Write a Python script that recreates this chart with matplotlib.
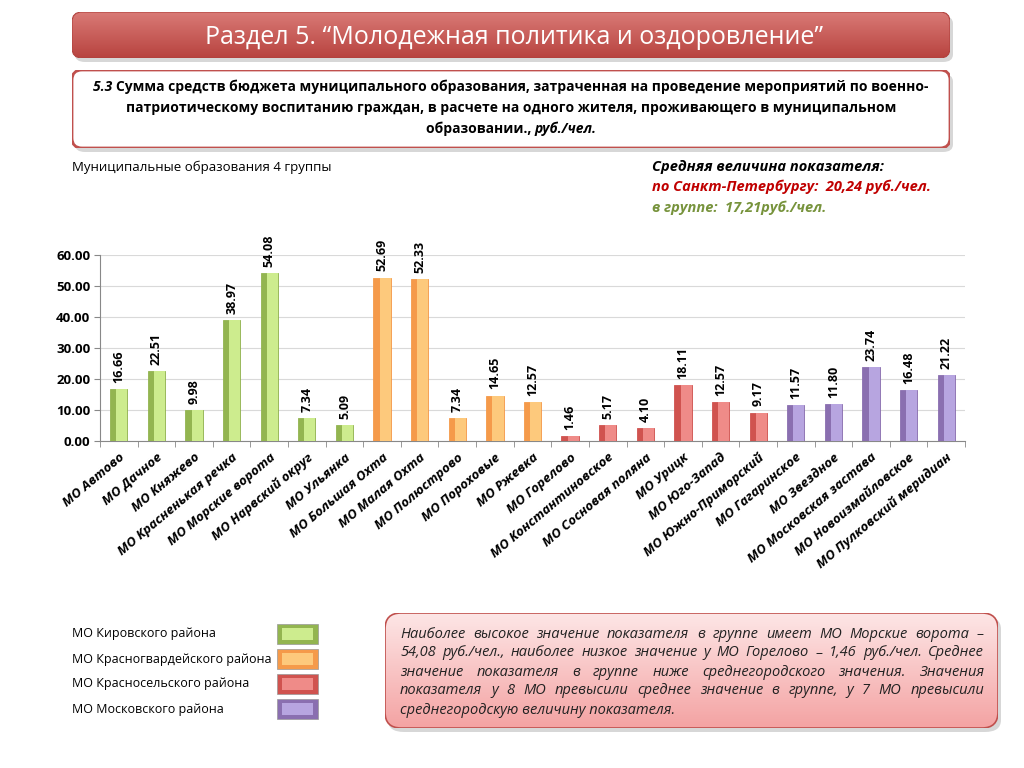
import numpy as np
import matplotlib
matplotlib.use("Agg")
from matplotlib import pyplot as plt
from matplotlib.patches import FancyBboxPatch, Rectangle

plt.rcParams['font.family'] = ['Open Sans', 'DejaVu Sans']

# data
names = ['МО Автово', 'МО Дачное', 'МО Княжево', 'МО Красненькая речка',
         'МО Морские ворота', 'МО Нарвский округ', 'МО Ульянка',
         'МО Большая Охта', 'МО Малая Охта', 'МО Полюстрово', 'МО Пороховые',
         'МО Ржевка', 'МО Горелово', 'МО Константиновское',
         'МО Сосновая поляна', 'МО Урицк', 'МО Юго-Запад',
         'МО Южно-Приморский', 'МО Гагаринское', 'МО Звездное',
         'МО Московская застава', 'МО Новоизмайловское',
         'МО Пулковский меридиан']
values = [16.66, 22.51, 9.98, 38.97, 54.08, 7.34, 5.09,
          52.69, 52.33, 7.34, 14.65, 12.57,
          1.46, 5.17, 4.10, 18.11, 12.57, 9.17,
          11.57, 11.80, 23.74, 16.48, 21.22]
district = [0] * 7 + [1] * 5 + [2] * 6 + [3] * 5
district_names = ['МО Кировского района', 'МО Красногвардейского района',
                  'МО Красносельского района', 'МО Московского района']
dark = ['#93b550', '#f59a4a', '#d0534f', '#8a6fb0']
light = ['#cdec8e', '#fdc97c', '#ef8b88', '#b7a5e0']
yticks = [0, 10, 20, 30, 40, 50, 60]

W, H = 1024, 768
fig = plt.figure(figsize=(W / 100, H / 100), dpi=100)
renderer = fig.canvas.get_renderer()


def fx(px):
    return px / W


def fy(py):
    return 1 - py / H


def width_px(t):
    return t.get_window_extent(renderer=renderer).width


def gradient_box(x0, y0, x1, y1, c_top, c_bot, edge, lw, rad, shadow=True):
    # rounded box with vertical gradient, pixel coords
    if shadow:
        fig.patches.append(FancyBboxPatch((fx(x0 + 3), fy(y1 + 4)), fx(x1 - x0), (y1 - y0) / H,
                                          boxstyle=f"round,pad=0,rounding_size={rad / W}",
                                          transform=fig.transFigure, fc='#b0b0b0', ec='none',
                                          alpha=0.5, zorder=0))
    ax_g = fig.add_axes([fx(x0), fy(y1), fx(x1 - x0), (y1 - y0) / H], zorder=1)
    ax_g.set_axis_off()
    c1 = np.array(matplotlib.colors.to_rgb(c_top))
    c2 = np.array(matplotlib.colors.to_rgb(c_bot))
    t = np.linspace(0, 1, 100)[:, None]
    img = (c1 * (1 - t) + c2 * t)[:, None, :]
    im = ax_g.imshow(img, aspect='auto', extent=[0, 1, 0, 1], origin='upper')
    ax_g.set_xlim(0, 1)
    ax_g.set_ylim(0, 1)
    patch = FancyBboxPatch((0, 0), 1, 1, boxstyle=f"round,pad=0,rounding_size={rad / (x1 - x0)}",
                           transform=ax_g.transAxes, fc='none', ec=edge, lw=lw,
                           mutation_aspect=(x1 - x0) / (y1 - y0))
    ax_g.add_patch(patch)
    im.set_clip_path(patch)
    return ax_g


def two_part(cx, py, a, b, kw_a, kw_b):
    # centered line made of two differently styled pieces
    ta = fig.text(0, fy(py), a, ha='left', va='center', zorder=5, **kw_a)
    tb = fig.text(0, fy(py), b, ha='left', va='center', zorder=5, **kw_b)
    wa, wb = width_px(ta), width_px(tb)
    start = cx - (wa + wb) / 2
    ta.set_x(fx(start))
    tb.set_x(fx(start + wa))


def justified(x0, x1, py, line, **kw):
    words = line.split(' ')
    ts = [fig.text(0, fy(py), w, ha='left', va='center', zorder=5, **kw) for w in words]
    ws = [width_px(t) for t in ts]
    gap = (x1 - x0 - sum(ws)) / max(len(words) - 1, 1)
    pos = x0
    for t, w in zip(ts, ws):
        t.set_x(fx(pos))
        pos += w + gap


# header banner
gradient_box(72, 12, 950, 58, '#d97a76', '#b8433f', '#b0403c', 0.8, 10)
fig.text(fx(514), fy(37), 'Раздел 5. “Молодежная политика и оздоровление”',
         color='white', fontsize=18, ha='center', va='center', zorder=5)

# subtitle box
gradient_box(72, 70, 950, 148, '#ffffff', '#ffffff', '#c0504d', 2, 10)
bold = dict(fontsize=10, fontweight='bold')
bold_it = dict(fontsize=10, fontweight='bold', style='italic')
two_part(511, 87, '5.3 ', 'Сумма средств бюджета муниципального образования, затраченная на проведение мероприятий по военно-',
         bold_it, bold)
fig.text(fx(511), fy(108), 'патриотическому воспитанию граждан, в расчете на одного жителя, проживающего в муниципальном',
         ha='center', va='center', zorder=5, **bold)
two_part(511, 129, 'образовании., ', 'руб./чел.', bold, bold_it)

fig.text(fx(72), fy(167), 'Муниципальные образования 4 группы', fontsize=9.5, ha='left', va='center')
fig.text(fx(652), fy(167), 'Средняя величина показателя:', fontsize=10.5, fontweight='bold',
         style='italic', ha='left', va='center')
fig.text(fx(652), fy(187), 'по Санкт-Петербургу:  20,24 руб./чел.', fontsize=10.5, fontweight='bold',
         style='italic', color='#c00000', ha='left', va='center')
fig.text(fx(652), fy(208), 'в группе:  17,21руб./чел.', fontsize=10.5, fontweight='bold',
         style='italic', color='#77933c', ha='left', va='center')

# bar chart
ax = fig.add_axes([fx(100), fy(441), fx(965 - 100), (441 - 255) / H])
x = np.arange(len(values))
dcols = [dark[d] for d in district]
lcols = [light[d] for d in district]
bw = 0.46
ax.bar(x, values, width=bw, color=dcols, edgecolor=dcols, linewidth=0.6, zorder=3)
ax.bar(x + bw * 0.18, values, width=bw * 0.64, color=lcols, linewidth=0, zorder=3)
for xi, v in zip(x, values):
    ax.text(xi, v + 2, f'{v:.2f}', rotation=90, ha='center', va='bottom',
            fontsize=9, fontweight='bold', clip_on=False)
ax.set_xlim(-0.5, len(values) - 0.5)
ax.set_ylim(0, 60)
ax.set_yticks(yticks)
ax.set_yticklabels([f'{t:.2f}' for t in yticks], fontsize=9.5, fontweight='bold')
ax.yaxis.grid(True, color='#d9d9d9', lw=0.8, zorder=0)
ax.set_xticks(np.arange(len(values) + 1) - 0.5, minor=True)
ax.set_xticks(x)
ax.set_xticklabels(names, rotation=40, ha='right', rotation_mode='anchor',
                   fontsize=9.5, fontweight='bold', style='italic')
ax.tick_params(axis='x', which='major', length=0, pad=7)
ax.tick_params(axis='x', which='minor', length=4, color='#888888')
ax.tick_params(axis='y', length=4, color='#888888', pad=3)
for s in ['top', 'right']:
    ax.spines[s].set_visible(False)
ax.spines['left'].set_color('#888888')
ax.spines['bottom'].set_color('#888888')

# legend
leg_y = [634, 659, 684, 709]
for i, (nm, yy) in enumerate(zip(district_names, leg_y)):
    fig.text(fx(72), fy(yy), nm, fontsize=9, ha='left', va='center')
    fig.patches.append(Rectangle((fx(277), fy(yy + 10)), fx(41), 20 / H,
                                 transform=fig.transFigure, fc=dark[i], ec='#999999', lw=0.5))
    fig.patches.append(Rectangle((fx(282), fy(yy + 6)), fx(31), 12 / H,
                                 transform=fig.transFigure, fc=light[i], ec='none'))

# comment box
gradient_box(385, 613, 998, 728, '#fde6e6', '#f4a3a3', '#c0504d', 1.2, 16)
comment = ['Наиболее высокое значение показателя в группе имеет МО Морские ворота –',
           '54,08 руб./чел., наиболее низкое значение у МО Горелово – 1,46 руб./чел. Среднее',
           'значение показателя в группе ниже среднегородского значения. Значения',
           'показателя у 8 МО превысили среднее значение в группе, у 7 МО превысили',
           'среднегородскую величину показателя.']
ckw = dict(fontsize=10.5, style='italic', color='#222222')
for i, line in enumerate(comment):
    py = 634 + i * 19
    if i < len(comment) - 1:
        justified(400, 984, py, line, **ckw)
    else:
        fig.text(fx(400), fy(py), line, ha='left', va='center', zorder=5, **ckw)

fig.savefig('out.png', dpi=100)
